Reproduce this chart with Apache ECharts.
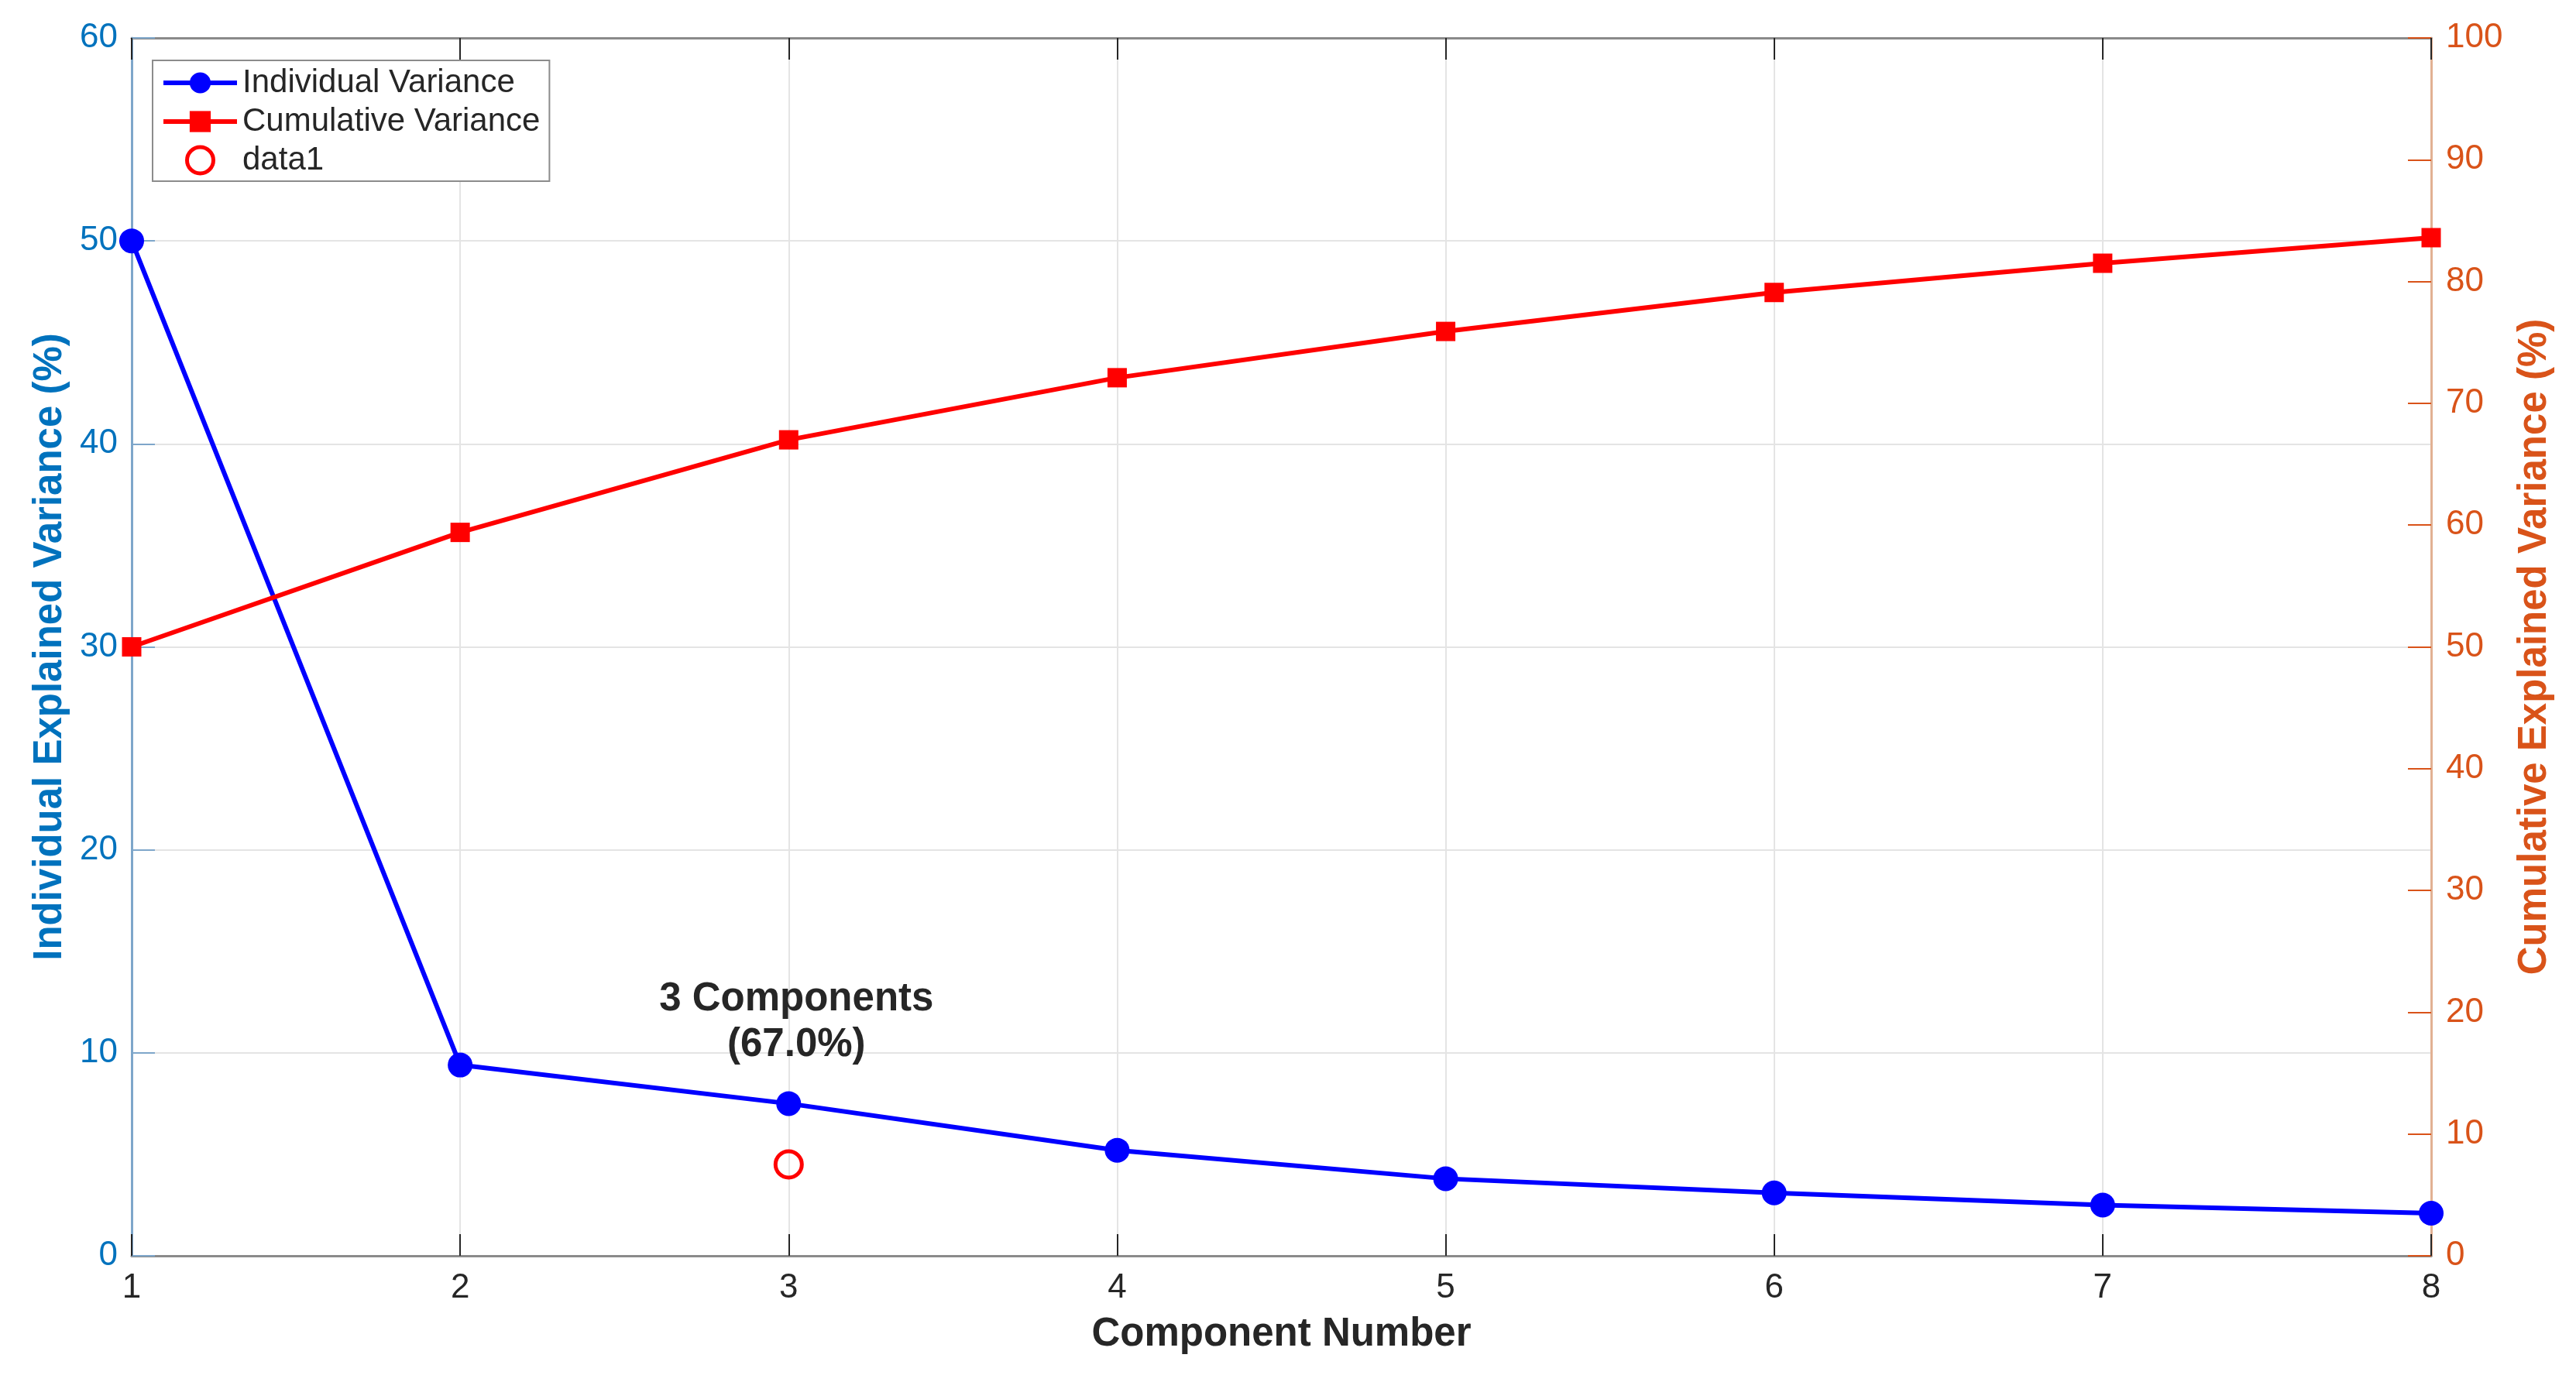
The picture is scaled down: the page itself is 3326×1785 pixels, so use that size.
<!DOCTYPE html>
<html>
<head>
<meta charset="utf-8">
<script src="https://cdn.jsdelivr.net/npm/echarts@6/dist/echarts.min.js"></script>
<style>
html,body{margin:0;padding:0;background:#fff;}
#chart{width:3326px;height:1785px;}
</style>
</head>
<body>
<div id="chart"></div>
<script>
// ---- data ----
var components = [1, 2, 3, 4, 5, 6, 7, 8];
var individualVariance = [50.0, 9.4, 7.5, 5.2, 3.8, 3.1, 2.5, 2.1];
var cumulativeVariance = [50.0, 59.4, 67.0, 72.1, 75.9, 79.1, 81.5, 83.6];
var data1Point = [3, 7.5];          // plotted on the right axis
var chosenComponents = 3;
var annotationPos = [3, 11.5];      // left axis coordinates
var leftAxisRange = [0, 60, 10];
var rightAxisRange = [0, 100, 10];
var xAxisRange = [1, 8, 1];

var FONT = '"Liberation Sans", Arial, Helvetica, sans-serif';
var chart = echarts.init(document.getElementById('chart'), null, {renderer: 'canvas'});

function pairs(xs, ys) { return xs.map(function (x, i) { return [x, ys[i]]; }); }

var annotationText = chosenComponents + ' Components\n(' +
  cumulativeVariance[chosenComponents - 1].toFixed(1) + '%)';

var option = {
  backgroundColor: '#ffffff',
  animation: false,
  textStyle: {fontFamily: FONT},
  grid: {left: 170, right: 187, top: 49, bottom: 163, containLabel: false},
  legend: {
    orient: 'vertical',
    left: 197, top: 78,
    data: [
      {name: 'Individual Variance'},
      {name: 'Cumulative Variance'},
      {name: 'data1', icon: 'circle', itemStyle: {color: '#ffffff', borderColor: '#FF0000', borderWidth: 5}}
    ],
    itemWidth: 95, itemHeight: 34, itemGap: 8,
    padding: [8, 12, 6, 11],
    lineStyle: {width: 6},
    backgroundColor: '#ffffff',
    borderColor: '#8c8c8c', borderWidth: 2, borderRadius: 0,
    textStyle: {fontFamily: FONT, fontSize: 42, color: '#262626', padding: [0, 0, 0, 2]}
  },
  xAxis: [{
    type: 'value', position: 'bottom',
    min: xAxisRange[0], max: xAxisRange[1], interval: xAxisRange[2],
    name: 'Component Number', nameLocation: 'middle', nameGap: 76,
    nameTextStyle: {fontFamily: FONT, fontSize: 51, fontWeight: 'bold', color: '#262626'},
    axisLine: {show: true, onZero: false, lineStyle: {color: '#8a8a8a', width: 3}},
    axisTick: {show: true, inside: true, length: 28, lineStyle: {color: '#262626', width: 2}},
    axisLabel: {fontFamily: FONT, fontSize: 44, color: '#262626', margin: 20},
    splitLine: {show: true, lineStyle: {color: '#e4e4e4', width: 2}}
  }, {
    type: 'value', position: 'top',
    min: xAxisRange[0], max: xAxisRange[1], interval: xAxisRange[2],
    axisLine: {show: true, onZero: false, lineStyle: {color: '#8a8a8a', width: 3}},
    axisTick: {show: true, inside: true, length: 28, lineStyle: {color: '#262626', width: 2}},
    axisLabel: {show: false},
    splitLine: {show: false}
  }],
  yAxis: [{
    type: 'value', position: 'left',
    min: leftAxisRange[0], max: leftAxisRange[1], interval: leftAxisRange[2],
    name: 'Individual Explained Variance (%)', nameLocation: 'middle', nameGap: 80, nameRotate: 90,
    nameTextStyle: {fontFamily: FONT, fontSize: 51, fontWeight: 'bold', color: '#0072BD'},
    axisLine: {show: true, onZero: false, lineStyle: {color: '#7ea6ca', width: 3}},
    axisTick: {show: true, inside: true, length: 30, lineStyle: {color: '#7ea6ca', width: 2}},
    axisLabel: {fontFamily: FONT, fontSize: 44, color: '#0072BD', margin: 18},
    splitLine: {show: true, lineStyle: {color: '#e4e4e4', width: 2}}
  }, {
    type: 'value', position: 'right',
    min: rightAxisRange[0], max: rightAxisRange[1], interval: rightAxisRange[2],
    name: 'Cumulative Explained Variance (%)', nameLocation: 'middle', nameGap: 108, nameRotate: 90,
    nameTextStyle: {fontFamily: FONT, fontSize: 51, fontWeight: 'bold', color: '#D95319'},
    axisLine: {show: true, onZero: false, lineStyle: {color: '#e2b193', width: 3}},
    axisTick: {show: true, inside: true, length: 30, lineStyle: {color: '#D95319', width: 2}},
    axisLabel: {fontFamily: FONT, fontSize: 44, color: '#D95319', margin: 19},
    splitLine: {show: false}
  }],
  series: [{
    name: 'Individual Variance', type: 'line', xAxisIndex: 0, yAxisIndex: 0,
    data: pairs(components, individualVariance),
    symbol: 'circle', symbolSize: 32,
    lineStyle: {color: '#0000FF', width: 6},
    itemStyle: {color: '#0000FF', opacity: 1},
    z: 3
  }, {
    name: 'Cumulative Variance', type: 'line', xAxisIndex: 0, yAxisIndex: 1,
    data: pairs(components, cumulativeVariance),
    symbol: 'rect', symbolSize: 25,
    lineStyle: {color: '#FF0000', width: 6},
    itemStyle: {color: '#FF0000', opacity: 1},
    z: 3
  }, {
    name: 'data1', type: 'scatter', xAxisIndex: 0, yAxisIndex: 1,
    data: [data1Point],
    symbol: 'circle', symbolSize: 34,
    itemStyle: {color: 'rgba(255,255,255,0)', borderColor: '#FF0000', borderWidth: 5, opacity: 1},
    z: 4
  }, {
    name: 'annotation', type: 'scatter', xAxisIndex: 0, yAxisIndex: 0,
    data: [annotationPos],
    symbolSize: 0, silent: true,
    itemStyle: {opacity: 1},
    label: {
      show: true, position: 'inside', offset: [10, 0],
      formatter: annotationText,
      fontFamily: FONT, fontSize: 51, fontWeight: 'bold', color: '#262626',
      textBorderWidth: 0, lineHeight: 59, align: 'center', opacity: 1
    },
    z: 5
  }]
};
chart.setOption(option);
</script>
</body>
</html>
